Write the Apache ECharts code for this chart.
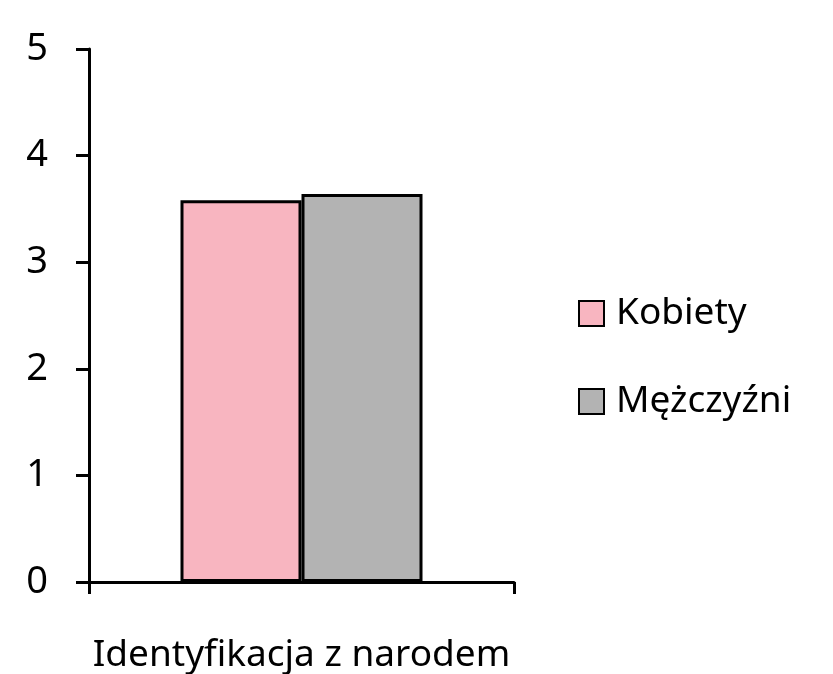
<!DOCTYPE html>
<html>
<head>
<meta charset="utf-8">
<script src="https://cdn.jsdelivr.net/npm/echarts@6/dist/echarts.min.js"></script>
<style>
html, body { margin: 0; padding: 0; background: #fff; }
#chart { width: 833px; height: 674px; }
</style>
</head>
<body>
<div id="chart"></div>
<script>
var categories = ['Identyfikacja z narodem']
var seriesNames = ['Kobiety', 'Mężczyźni']
var kobiety = [3.58]
var mezczyzni = [3.64]
var yTicks = [0, 1, 2, 3, 4, 5]

var font = 'Noto Sans'
var myChart = echarts.init(document.getElementById('chart'))

var option = {
    animation: false,
    backgroundColor: '#ffffff',
    grid: { left: 89, right: 319, top: 49, bottom: 91 },
    legend: {
        orient: 'vertical',
        left: 578, top: 295,
        padding: 0,
        itemWidth: 25, itemHeight: 25,
        itemGap: 51,
        icon: 'rect',
        data: seriesNames,
        textStyle: { fontFamily: font, fontSize: 37, color: '#000', padding: [0, 0, 0, 7] }
    },
    xAxis: {
        type: 'category',
        data: categories,
        axisLine: { lineStyle: { color: '#000', width: 3 } },
        axisTick: { show: true, interval: 0, length: 12, lineStyle: { color: '#000', width: 3 } },
        axisLabel: { fontFamily: font, fontSize: 37, color: '#000', margin: 55 }
    },
    yAxis: {
        type: 'value',
        min: yTicks[0], max: yTicks[yTicks.length - 1], interval: 1,
        splitLine: { show: false },
        axisLine: { show: true, lineStyle: { color: '#000', width: 3 } },
        axisTick: { show: true, length: 13, lineStyle: { color: '#000', width: 3 } },
        axisLabel: { fontFamily: font, fontSize: 38, color: '#000', margin: 41 }
    },
    series: [
        {
            name: seriesNames[0], type: 'bar', data: kobiety,
            barWidth: 121, barGap: '0%',
            itemStyle: { color: '#f8b5c0', borderColor: '#000', borderWidth: 3 }
        },
        {
            name: seriesNames[1], type: 'bar', data: mezczyzni,
            barWidth: 121, barGap: '0%',
            itemStyle: { color: '#b3b3b3', borderColor: '#000', borderWidth: 3 }
        }
    ]
}
myChart.setOption(option)
</script>
</body>
</html>
